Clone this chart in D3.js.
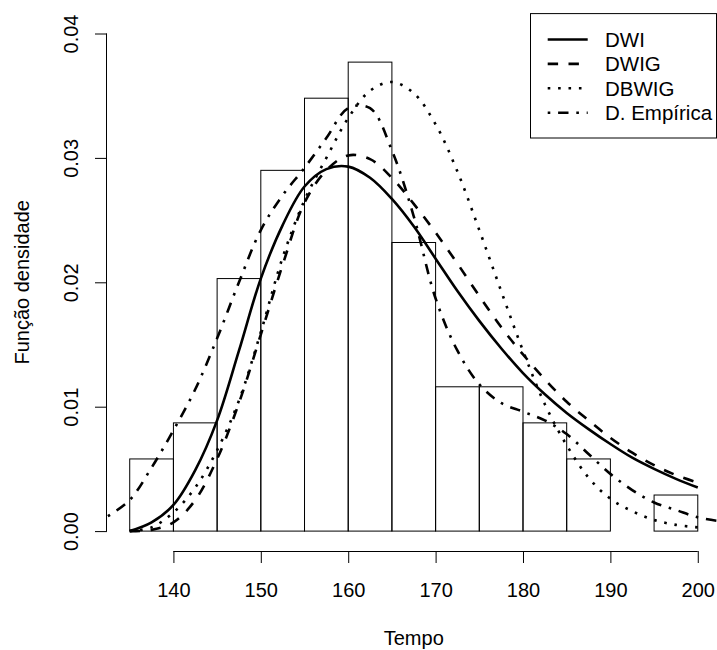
<!DOCTYPE html>
<html>
<head>
<meta charset="utf-8">
<script src="https://cdn.jsdelivr.net/npm/d3@7"></script>
<style>
  body{margin:0;background:#fff;}
  text{font-family:"Liberation Sans",Arial,Helvetica,sans-serif;fill:#000;}
</style>
</head>
<body>
<svg></svg>
<script>
// histogram (density scale)
var binEdges = [135,140,145,150,155,160,165,170,175,180,185,190,195,200];
var binDensity = [0.0058,0.0087,0.0203,0.0290,0.0348,0.0377,0.0232,0.0116,0.0116,0.0087,0.0058,0,0.0029];

// fitted curves, evaluated on the same grid of tempo
var tempo = [135,137.5,140,142.5,145,147.5,150,152.5,155,157.5,160,162.5,165,167.5,
             170,172.5,175,177.5,180,182.5,185,187.5,190,192.5,195,197.5,200];
var dwi   = [0.0000,0.0007,0.0021,0.0049,0.0089,0.0145,0.0203,0.0246,0.0277,0.0291,0.0293,0.0284,0.0267,0.0245,
             0.0219,0.0193,0.0169,0.0147,0.0127,0.0110,0.0095,0.0082,0.0070,0.0059,0.0050,0.0042,0.0035];
var dwig  = [0.0000,0.0001,0.0007,0.0025,0.0058,0.0103,0.0158,0.0214,0.0264,0.0290,0.0302,0.0299,0.0284,0.0263,
             0.0240,0.0215,0.0189,0.0164,0.0142,0.0122,0.0104,0.0089,0.0075,0.0063,0.0053,0.0045,0.0039];
var dbwig = [0.0000,0.0003,0.0015,0.0035,0.0065,0.0105,0.0160,0.0220,0.0266,0.0300,0.0332,0.0354,0.0361,0.0352,
             0.0327,0.0289,0.0242,0.0193,0.0145,0.0102,0.0069,0.0043,0.0026,0.0016,0.0009,0.0005,0.0003];

// kernel density (empirical), runs across the whole plot width
var tempoEmp = [132.5,135,137.5,140,142.5,145,147.5,150,152.5,155,157.5,160,162.5,165,167.5,
                170,172.5,175,177.5,180,182.5,185,187.5,190,192.5,195,197.5,200,202.5];
var empirica = [0.0012,0.0025,0.0051,0.0081,0.0114,0.0155,0.0200,0.0242,0.0270,0.0292,0.0316,0.0340,0.0340,0.0306,0.0253,
                0.0187,0.0145,0.0118,0.0103,0.0096,0.0089,0.0078,0.0062,0.0046,0.0033,0.0023,0.0017,0.0011,0.0008];

var xTicks = [140,150,160,170,180,190,200];
var yTicks = [0,0.01,0.02,0.03,0.04];
var legendNames = ["DWI","DWIG","DBWIG","D. Empírica"];

start();

function start(){
  var width = 717;
  var height = 650;
  var lw = 2.6;
  var dashes = [null, "10.4,10.4", "2.6,7.8", "2.6,7.8,10.4,7.8"];

  var svg = d3.select("svg")
              .attr("width",width)
              .attr("height",height);

  var left = 107, right = 720.5, top = 13.6, bottom = 551;

  var x = d3.scaleLinear().domain([132.4,202.6]).range([left,right]);
  var y = d3.scaleLinear().domain([-0.0016,0.0416]).range([bottom,top]);

  svg.append("defs").append("clipPath")
     .attr("id","plotclip")
     .append("rect")
     .attr("x",left).attr("y",top)
     .attr("width",right-left).attr("height",bottom-top);

  // histogram
  svg.append("g")
     .selectAll("rect")
     .data(binDensity)
     .enter()
     .append("rect")
     .attr("x",function(d,i){return x(binEdges[i]);})
     .attr("y",function(d){return y(d);})
     .attr("width",function(d,i){return x(binEdges[i+1])-x(binEdges[i]);})
     .attr("height",function(d){return y(0)-y(d);})
     .attr("fill","none")
     .attr("stroke","black")
     .attr("stroke-width",1);

  // curves
  var series = [
    {xs:tempo, ys:dwi},
    {xs:tempo, ys:dwig},
    {xs:tempo, ys:dbwig},
    {xs:tempoEmp, ys:empirica}
  ];

  var line = d3.line()
               .x(function(d){return x(d[0]);})
               .y(function(d){return y(d[1]);})
               .curve(d3.curveCatmullRom);

  var curves = svg.append("g").attr("clip-path","url(#plotclip)");
  series.forEach(function(s,i){
    var pts = s.xs.map(function(v,j){return [v,s.ys[j]];});
    curves.append("path")
          .attr("d",line(pts))
          .attr("fill","none")
          .attr("stroke","black")
          .attr("stroke-width",lw)
          .attr("stroke-dasharray",dashes[i]);
  });

  // axes
  var xAxis = svg.append("g")
                 .attr("transform","translate(0,"+bottom+")")
                 .call(d3.axisBottom(x).tickValues(xTicks).tickSize(12).tickSizeOuter(0));
  xAxis.select(".domain").attr("d","M"+x(140)+",0.5H"+x(200));
  xAxis.selectAll("text")
       .attr("y",45.7)
       .attr("dy",null)
       .style("font-size","20px");

  var yAxis = svg.append("g")
                 .attr("transform","translate("+left+",0)")
                 .call(d3.axisLeft(y).tickValues(yTicks).tickFormat(d3.format(".2f")).tickSize(12).tickSizeOuter(0));
  yAxis.select(".domain").attr("d","M-0.5,"+y(0)+"V"+y(0.04));
  yAxis.selectAll("text")
       .attr("transform","rotate(-90)")
       .attr("x",0)
       .attr("y",-28.7)
       .attr("dy",null)
       .attr("text-anchor","middle")
       .style("font-size","20px");
  svg.selectAll(".domain, .tick line").attr("stroke","black");
  svg.selectAll(".tick text").attr("font-family",null);

  svg.append("text")
     .attr("x",(left+right)/2)
     .attr("y",645)
     .attr("text-anchor","middle")
     .style("font-size","20px")
     .text("Tempo");

  svg.append("text")
     .attr("transform","translate(28.5,"+((top+bottom)/2)+") rotate(-90)")
     .attr("text-anchor","middle")
     .style("font-size","20px")
     .text("Função densidade");

  // legend
  var legend = svg.append("g");
  legend.append("rect")
        .attr("x",530.5).attr("y",13.6)
        .attr("width",186).attr("height",124.4)
        .attr("fill","white")
        .attr("stroke","black")
        .attr("stroke-width",1);

  var rows = legend.selectAll("g.row")
                   .data(legendNames)
                   .enter()
                   .append("g")
                   .attr("class","row")
                   .attr("transform",function(d,i){return "translate(0,"+(39.5+i*24.4)+")";});

  rows.append("line")
      .attr("x1",547.7).attr("x2",587.7)
      .attr("y1",0).attr("y2",0)
      .attr("stroke","black")
      .attr("stroke-width",lw)
      .attr("stroke-dasharray",function(d,i){return dashes[i];});

  rows.append("text")
      .attr("x",605)
      .attr("y",7.3)
      .style("font-size","20.5px")
      .text(function(d){return d;});
}
</script>
</body>
</html>
